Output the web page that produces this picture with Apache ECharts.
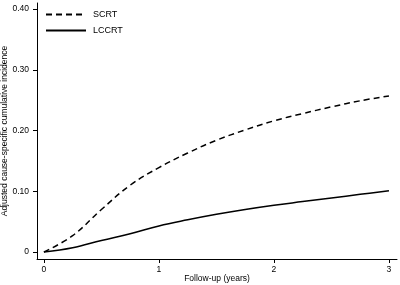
<!DOCTYPE html>
<html>
<head>
<meta charset="utf-8">
<script src="https://cdn.jsdelivr.net/npm/echarts@6/dist/echarts.min.js"></script>
<style>html,body{margin:0;padding:0;background:#fff}#c{width:400px;height:285px}</style>
</head>
<body>
<div id="c"></div>
<script>
const years = [0, 0.25, 0.5, 0.75, 1.0, 1.25, 1.5, 1.75, 2.0, 2.25, 2.5, 2.75, 3.0];
const scrt = [0, 0.027, 0.070, 0.110, 0.139, 0.163, 0.184, 0.201, 0.216, 0.228, 0.239, 0.249, 0.257];
const lccrt = [0, 0.007, 0.019, 0.030, 0.043, 0.053, 0.062, 0.070, 0.077, 0.083, 0.089, 0.095, 0.101];
const xTicks = [0, 1, 2, 3];
const yTicks = [0, 0.1, 0.2, 0.3, 0.4];
const yTickLabels = ['0', '0.10', '0.20', '0.30', '0.40'];
const seriesNames = ['SCRT', 'LCCRT'];

const font = 'Liberation Sans, Arial, sans-serif';
const chart = echarts.init(document.getElementById('c'), null, {renderer: 'canvas'});
chart.setOption({
  animation: false,
  backgroundColor: '#fff',
  grid: {left: 37, right: 3, top: 3, bottom: 26, containLabel: false, outerBoundsMode: 'none'},
  legend: {
    orient: 'vertical', left: 45, top: 10, padding: 0, itemWidth: 40, itemHeight: 8, itemGap: 7,
    itemStyle: {opacity: 0},
    textStyle: {fontFamily: font, fontSize: 9, color: '#000', padding: [0, 0, 0, 2]},
    data: seriesNames
  },
  xAxis: {
    type: 'value', min: -0.06, max: 3.07,
    name: 'Follow-up (years)', nameLocation: 'middle', nameGap: 15, nameMoveOverlap: false,
    nameTextStyle: {fontFamily: font, fontSize: 8.5, color: '#000'},
    axisLine: {show: true, onZero: false, lineStyle: {color: '#000', width: 1}},
    axisTick: {show: true, length: 4, customValues: xTicks, lineStyle: {color: '#000'}},
    axisLabel: {customValues: xTicks, margin: 6, fontFamily: font, fontSize: 8.5, color: '#000'},
    splitLine: {show: false}
  },
  yAxis: {
    type: 'value', min: -0.0115, max: 0.41,
    name: 'Adjusted cause-specific cumulative incidence', nameLocation: 'middle', nameGap: 28, nameMoveOverlap: false,
    nameTextStyle: {fontFamily: font, fontSize: 8.5, color: '#000'},
    axisLine: {show: true, onZero: false, lineStyle: {color: '#000', width: 1}},
    axisTick: {show: true, length: 4, customValues: yTicks, lineStyle: {color: '#000'}},
    axisLabel: {customValues: yTicks, margin: 8, fontFamily: font, fontSize: 8.5, color: '#000',
      formatter: v => yTickLabels[yTicks.findIndex(t => Math.abs(t - v) < 1e-9)]},
    splitLine: {show: false}
  },
  series: [
    {name: seriesNames[0], type: 'line', smooth: 0.4, symbol: 'none',
     lineStyle: {color: '#000', width: 1.5, type: [6, 4]},
     itemStyle: {color: '#000'},
     data: years.map((t, i) => [t, scrt[i]])},
    {name: seriesNames[1], type: 'line', smooth: 0.4, symbol: 'none',
     lineStyle: {color: '#000', width: 1.5},
     itemStyle: {color: '#000'},
     data: years.map((t, i) => [t, lccrt[i]])}
  ]
});
</script>
</body>
</html>
